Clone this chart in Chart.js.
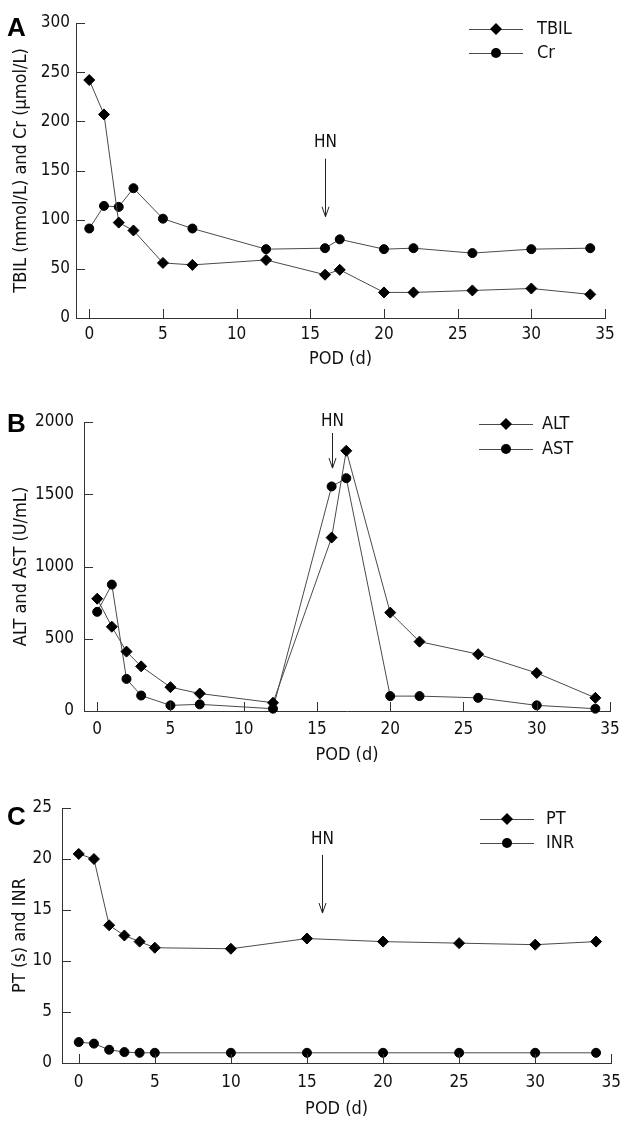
<!DOCTYPE html>
<html lang="en">
<head>
  <meta charset="UTF-8" />
  <title>TBIL / Cr, ALT / AST, PT / INR after surgery</title>
  <style>
    * { box-sizing: border-box; margin: 0; padding: 0; }
    body { background: #fff; width: 630px; height: 1125px; position: relative; overflow: hidden; }
    canvas { position: absolute; left: 0; }
  </style>
  <script src="https://cdn.jsdelivr.net/npm/chart.js"></script>
</head>
<body>
  <canvas id="chartA" width="630" height="372" style="top:0px"></canvas>
  <canvas id="chartB" width="630" height="400" style="top:372px"></canvas>
  <canvas id="chartC" width="630" height="353" style="top:772px"></canvas>

  <script>
    // values
    const podAB = [0, 1, 2, 3, 5, 7, 12, 16, 17, 20, 22, 26, 30, 34];
    const tbil = [242, 207, 97, 89, 56, 54, 59, 44, 49, 26, 26, 28, 30, 24];
    const cr = [91, 114, 113, 132, 101, 91, 70, 71, 80, 70, 71, 66, 70, 71];
    const alt = [777, 583, 411, 309, 165, 121, 57, 1200, 1801, 681, 480, 393, 263, 91];
    const ast = [686, 875, 222, 107, 39, 46, 16, 1554, 1611, 103, 103, 91, 39, 16];
    const podC = [0, 1, 2, 3, 4, 5, 10, 15, 20, 25, 30, 34];
    const pt = [20.5, 20.0, 13.5, 12.5, 11.9, 11.3, 11.2, 12.2, 11.9, 11.75, 11.6, 11.9];
    const inr = [2.05, 1.9, 1.3, 1.07, 1.0, 1.0, 1.0, 1.0, 1.0, 1.0, 1.0, 1.0];

    const xTicks = [0, 5, 10, 15, 20, 25, 30, 35];
    const yTicksA = [0, 50, 100, 150, 200, 250, 300];
    const yTicksB = [0, 500, 1000, 1500, 2000];
    const yTicksC = [0, 5, 10, 15, 20, 25];

    const FONT = "'DejaVu Sans Condensed', 'DejaVu Sans', sans-serif";
    const lineCol = '#4a4a4a';
    const axisCol = '#333';
    Chart.defaults.font.family = FONT;
    Chart.defaults.color = '#111';

    function toXY(xs, ys) {
      return xs.map((x, i) => ({ x: x, y: ys[i] }));
    }

    function drawMarker(ctx, style, x, y) {
      ctx.beginPath();
      if (style === 'circle') {
        ctx.arc(x, y, 5, 0, Math.PI * 2);
      } else {
        ctx.moveTo(x - 6, y);
        ctx.lineTo(x, y - 6);
        ctx.lineTo(x + 6, y);
        ctx.lineTo(x, y + 6);
        ctx.closePath();
      }
      ctx.fillStyle = '#000';
      ctx.fill();
    }

    // inward ticks, HN arrow, legend and panel letter (one plugin per panel)
    function extrasFor(p) {
      const o = p.extras;
      return {
        id: 'extras' + o.letter,
        afterDraw(chart) {
          const ctx = chart.ctx;
          const area = chart.chartArea;
          const x = chart.scales.x;
          const y = chart.scales.y;
          ctx.save();
          ctx.strokeStyle = axisCol;
          ctx.lineWidth = 1;
          ctx.beginPath();
          for (const v of xTicks) {
            const px = Math.round(x.getPixelForValue(v)) + 0.5;
            ctx.moveTo(px, area.bottom);
            ctx.lineTo(px, area.bottom - 9);
          }
          for (const v of p.yTicks) {
            const py = Math.round(y.getPixelForValue(v)) + 0.5;
            ctx.moveTo(area.left, py);
            ctx.lineTo(area.left + 9, py);
          }
          ctx.stroke();

          // HN marker
          const hx = Math.round(x.getPixelForValue(o.hn.x)) + 0.5;
          ctx.fillStyle = '#111';
          ctx.font = '17px ' + FONT;
          ctx.textAlign = 'center';
          ctx.textBaseline = 'middle';
          ctx.fillText('HN', hx, y.getPixelForValue(o.hn.text));
          const a0 = y.getPixelForValue(o.hn.from);
          const a1 = y.getPixelForValue(o.hn.to);
          ctx.strokeStyle = '#222';
          ctx.beginPath();
          ctx.moveTo(hx, a0);
          ctx.lineTo(hx, a1);
          ctx.moveTo(hx - 3.5, a1 - 10);
          ctx.lineTo(hx, a1);
          ctx.lineTo(hx + 3.5, a1 - 10);
          ctx.stroke();

          // legend
          const lg = o.legend;
          chart.data.datasets.forEach((ds, i) => {
            const ly = lg.ys[i];
            ctx.strokeStyle = lineCol;
            ctx.beginPath();
            ctx.moveTo(lg.x1, ly + 0.5);
            ctx.lineTo(lg.x2, ly + 0.5);
            ctx.stroke();
            drawMarker(ctx, ds.pointStyle, (lg.x1 + lg.x2) / 2, ly);
            ctx.fillStyle = '#111';
            ctx.font = '18px ' + FONT;
            ctx.textAlign = 'left';
            ctx.fillText(ds.label, lg.tx, ly);
          });

          // panel letter
          ctx.font = 'bold 26px "Liberation Sans", Arial, sans-serif';
          ctx.textAlign = 'left';
          ctx.fillStyle = '#000';
          ctx.fillText(o.letter, 7, o.letterY);
          ctx.restore();
        }
      };
    }

    function dataset(label, data, style) {
      return {
        label: label,
        data: data,
        borderColor: lineCol,
        borderWidth: 1,
        pointStyle: style,
        pointRadius: style === 'circle' ? 4.5 : 5.5,
        pointBackgroundColor: '#000',
        pointBorderColor: '#000',
        pointBorderWidth: 1,
        tension: 0,
        clip: false
      };
    }

    function makePanel(id, p) {
      new Chart(document.getElementById(id), {
        type: 'line',
        data: { datasets: p.datasets },
        options: {
          responsive: false,
          animation: false,
          events: [],
          layout: { padding: { top: p.padTop, right: p.padRight, left: 0, bottom: 0 } },
          plugins: {
            legend: { display: false },
            tooltip: { enabled: false }
          },
          scales: {
            x: {
              type: 'linear',
              min: p.xMin,
              max: 35,
              afterBuildTicks: s => { s.ticks = xTicks.map(v => ({ value: v })); },
              afterFit: s => { s.height = p.xHeight; },
              grid: { drawOnChartArea: false, drawTicks: false },
              border: { color: axisCol, width: 1 },
              ticks: { padding: p.xTickPad, font: { size: 17 }, color: '#111', callback: v => String(v) },
              title: { display: true, text: 'POD (d)', font: { size: 18 }, color: '#111', padding: { top: 0, bottom: p.xTitlePad } }
            },
            y: {
              type: 'linear',
              min: 0,
              max: p.yTicks[p.yTicks.length - 1],
              afterBuildTicks: s => { s.ticks = p.yTicks.map(v => ({ value: v })); },
              afterFit: s => { s.width = p.yWidth; },
              grid: { drawOnChartArea: false, drawTicks: false },
              border: { color: axisCol, width: 1 },
              ticks: { padding: p.yTickPad, font: { size: 17 }, color: '#111', callback: v => String(v) },
              title: { display: true, text: p.yTitle, font: { size: 18 }, color: '#111', padding: { top: p.yTitlePad, bottom: 0 } }
            }
          }
        },
        plugins: [extrasFor(p)]
      });
    }

    makePanel('chartA', {
      datasets: [dataset('TBIL', toXY(podAB, tbil), 'rectRot'), dataset('Cr', toXY(podAB, cr), 'circle')],
      yTicks: yTicksA, xMin: -0.9,
      padTop: 23, padRight: 25, yWidth: 76, xHeight: 54,
      xTickPad: 6, yTickPad: 6, xTitlePad: 2, yTitlePad: 11,
      yTitle: 'TBIL (mmol/L) and Cr (\u03BCmol/L)',
      extras: {
        hn: { x: 16, text: 178, from: 162, to: 103 },
        legend: { x1: 469, x2: 523, tx: 537, ys: [29, 53] },
        letter: 'A', letterY: 29
      }
    });

    makePanel('chartB', {
      datasets: [dataset('ALT', toXY(podAB, alt), 'rectRot'), dataset('AST', toXY(podAB, ast), 'circle')],
      yTicks: yTicksB, xMin: -0.9,
      padTop: 50, padRight: 20, yWidth: 84, xHeight: 61,
      xTickPad: 8, yTickPad: 10, xTitlePad: 6, yTitlePad: 11,
      yTitle: 'ALT and AST (U/mL)',
      extras: {
        hn: { x: 16, text: 2002, from: 1924, to: 1681 },
        legend: { x1: 479, x2: 533, tx: 542, ys: [52, 77] },
        letter: 'B', letterY: 53
      }
    });

    makePanel('chartC', {
      datasets: [dataset('PT', toXY(podC, pt), 'rectRot'), dataset('INR', toXY(podC, inr), 'circle')],
      yTicks: yTicksC, xMin: -1.1,
      padTop: 36, padRight: 16, yWidth: 62, xHeight: 62,
      xTickPad: 9, yTickPad: 10, xTitlePad: 5, yTitlePad: 10,
      yTitle: 'PT (s) and INR',
      extras: {
        hn: { x: 16, text: 21.9, from: 20.4, to: 14.7 },
        legend: { x1: 480, x2: 534, tx: 546, ys: [47, 71] },
        letter: 'C', letterY: 46
      }
    });
  </script>
</body>
</html>
